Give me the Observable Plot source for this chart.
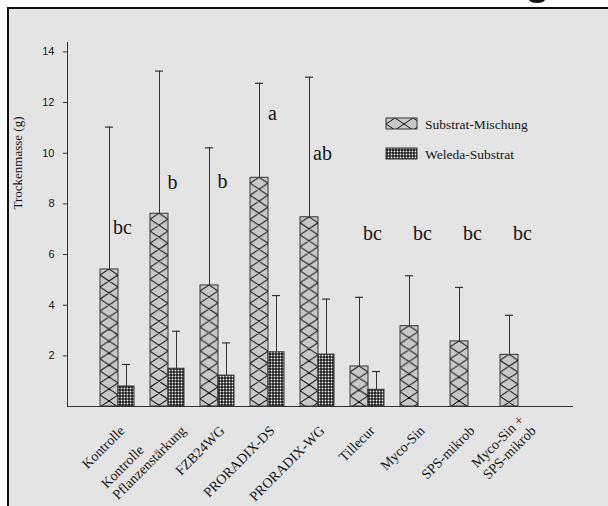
<!DOCTYPE html>
<html><head><meta charset="utf-8">
<script src="https://cdn.jsdelivr.net/npm/d3@7"></script>
<script src="https://cdn.jsdelivr.net/npm/@observablehq/plot@0.6"></script>
<style>
html,body{margin:0;padding:0;background:#fff;}
svg{display:block}
</style></head><body>
<div id="chart"></div>
<script>
// ---- data ----
const categories = ["Kontrolle","Kontrolle Pflanzenstärkung","FZB24WG","PRORADIX-DS","PRORADIX-WG","Tillecur","Myco-Sin","SPS-mikrob","Myco-Sin + SPS-mikrob"];
const xLabels = ["Kontrolle","Kontrolle\nPflanzenstärkung","FZB24WG","PRORADIX-DS","PRORADIX-WG","Tillecur","Myco-Sin","SPS-mikrob","Myco-Sin +\nSPS-mikrob"];
const series = ["Substrat-Mischung","Weleda-Substrat"];
const mischungMean = [5.41,7.61,4.78,9.03,7.47,1.58,3.17,2.57,2.04];
const mischungSD   = [5.62,5.63,5.43,3.73,5.53,2.73,1.99,2.13,1.56];
const weledaMean   = [0.79,1.49,1.22,2.14,2.05,0.66,null,null,null];
const weledaSD     = [0.87,1.48,1.29,2.24,2.19,0.72,null,null,null];
const letters = ["bc","b","b","a","ab","bc","bc","bc","bc"];
const letterY = [7.07,8.84,8.86,11.55,10.0,6.83,6.83,6.83,6.83];
const yTicks = [2,4,6,8,10,12,14];
const yLabel = "Trockenmasse (g)";
const yMax = 14.37;

// ---- derived tables ----
const rowsS = categories.map((c,i)=>({cat:c, mean:mischungMean[i], top:mischungMean[i]+mischungSD[i]}));
const rowsW = categories.map((c,i)=>({cat:c, mean:weledaMean[i], top:weledaMean[i]==null?null:weledaMean[i]+weledaSD[i]})).filter(d=>d.mean!=null);

const INK = "#151515";
const LINE = "#333";
const SERIF = "'Liberation Serif', 'Times New Roman', serif";
const SANS = "'Liberation Sans', Arial, sans-serif";

// x tick labels (rotated, multi-line left-aligned)
const LABEL_FONT = 14;
const ctx = document.createElement("canvas").getContext("2d");
ctx.font = `${LABEL_FONT}px "Liberation Serif"`;
const r = Math.SQRT1_2;
const labelMarks = [];
xLabels.forEach((lab,i)=>{
  const lines = lab.split("\n");
  const widths = lines.map(l=>ctx.measureText(l).width);
  const maxW = Math.max(...widths);
  const n = lines.length;
  lines.forEach((line,k)=>{
    const u = n===1 ? -widths[k] : 8 - maxW;
    const v = (k - (n-1)/2) * 16;
    const dx = 8 + (u + v) * r;
    const dy = 25 + (-u + v) * r;
    labelMarks.push(Plot.text([categories[i]], {
      x: d=>d, frameAnchor:"bottom", text: ()=>line, rotate:-45,
      textAnchor:"start", lineAnchor:"bottom", dx, dy, fontSize: LABEL_FONT, fill: INK
    }));
  });
});

const chart = Plot.plot({
  width: 608, height: 506,
  marginLeft: 67, marginRight: 36, marginTop: 42, marginBottom: 100,
  style: {background:"transparent", fontFamily: SERIF, fontSize:"14px", color: INK, overflow:"visible"},
  x: {domain: categories, range:[100,534], paddingInner:0.32, paddingOuter:0, axis:null},
  y: {domain:[0,yMax]},
  marks: [
    Plot.barY(rowsS, {x:"cat", y:"mean", fill:"url(#hatchS)", stroke:LINE, strokeWidth:1, insetRight:16}),
    Plot.barY(rowsW, {x:"cat", y:"mean", fill:"url(#dotsW)", stroke:LINE, strokeWidth:1, insetLeft:18}),
    Plot.ruleX(rowsS, {x:"cat", y1:"mean", y2:"top", dx:-8, stroke:LINE, strokeWidth:1}),
    Plot.ruleX(rowsW, {x:"cat", y1:"mean", y2:"top", dx:9, stroke:LINE, strokeWidth:1}),
    Plot.tickY(rowsS, {x:"cat", y:"top", dx:-8, insetLeft:13, insetRight:13, stroke:LINE, strokeWidth:1.2}),
    Plot.tickY(rowsW, {x:"cat", y:"top", dx:9, insetLeft:13, insetRight:13, stroke:LINE, strokeWidth:1.2}),
    Plot.text(categories, {x:d=>d, y:(d,i)=>letterY[i], text:(d,i)=>letters[i], dx:5, fontSize:20, fill:INK}),
    Plot.axisY(yTicks, {tickSize:4, tickPadding:9, fontFamily:SANS, fontSize:11, label:null, stroke:LINE, fill:INK}),
    Plot.frame({anchor:"left", stroke:LINE}),
    Plot.frame({anchor:"bottom", stroke:LINE}),
    Plot.text([yLabel], {frameAnchor:"left", text:d=>d, rotate:-90, dx:-50, dy:-15, fontSize:13, fill:INK}),
    ...labelMarks
  ]
});
document.getElementById("chart").appendChild(chart);

// ---- decoration: patterns, panel background, border, legend ----
const svg = d3.select(chart);
const defs = svg.insert("defs", ":first-child");
const ph = defs.append("pattern").attr("id","hatchS")
  .attr("patternUnits","objectBoundingBox").attr("patternContentUnits","userSpaceOnUse")
  .attr("x",0).attr("y",0).attr("width",1).attr("height",1);
ph.append("rect").attr("width",400).attr("height",800).attr("fill","#c8c8c8");
let pd = "";
for (let k=-2;k<70;k++){
  for (let j=0;j<4;j++){
    const x0=j*18;
    pd += `M${x0},${12*k-6}L${x0+18},${12*k+6}M${x0},${12*k+6}L${x0+18},${12*k-6}`;
  }
}
ph.append("path").attr("d",pd).attr("stroke","#111").attr("stroke-width",1).attr("fill","none");
const pw = defs.append("pattern").attr("id","dotsW").attr("patternUnits","userSpaceOnUse").attr("width",3).attr("height",3);
pw.append("rect").attr("width",3).attr("height",3).attr("fill","#1a1a1a");
pw.append("circle").attr("cx",1.5).attr("cy",1.5).attr("r",0.95).attr("fill","#f4f4f4");

const bg = svg.insert("g", "defs + *");
bg.append("rect").attr("width",608).attr("height",506).attr("fill","#fff");
bg.append("rect").attr("x",9).attr("y",9).attr("width",599).attr("height",497).attr("fill","#e4e4e4");
bg.append("rect").attr("x",7).attr("y",7).attr("width",601).attr("height",2).attr("fill","#111");
bg.append("rect").attr("x",7).attr("y",7).attr("width",2).attr("height",499).attr("fill","#111");
bg.append("ellipse").attr("cx",537).attr("cy",-0.5).attr("rx",8).attr("ry",3.5).attr("fill","#111");

const fills = ["url(#hatchS)","url(#dotsW)"];
const leg = svg.append("g").attr("text-anchor","start");
series.forEach((s,i)=>{
  leg.append("rect").attr("x",386).attr("y",118+30*i).attr("width",31).attr("height",11)
    .attr("fill",fills[i]).attr("stroke",LINE);
  leg.append("text").attr("x",425).attr("y",124+30*i).attr("dy","0.35em").attr("text-anchor","start")
    .attr("font-family",SERIF).attr("font-size",13.5).attr("fill",INK).text(s);
});
</script>
</body></html>
